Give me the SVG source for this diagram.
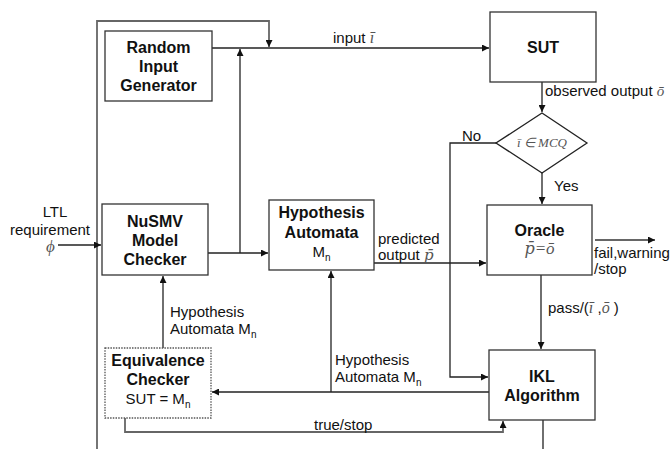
<svg xmlns="http://www.w3.org/2000/svg" width="670" height="449" viewBox="0 0 670 449">
<defs>
<marker id="arr" viewBox="0 0 10 10" refX="10" refY="5" markerWidth="10" markerHeight="7" markerUnits="userSpaceOnUse" orient="auto"><path d="M0,0 L10,5 L0,10 z" fill="#111"/></marker>
</defs>
<style>
.box{fill:#fff;stroke:#333;stroke-width:1.3}
.dot{fill:#fff;stroke:#555;stroke-width:1.3;stroke-dasharray:1.5 1.2}
.t{font-family:"Liberation Sans",Arial,sans-serif;font-weight:bold;font-size:16px;fill:#111;text-anchor:middle}
.r{font-family:"Liberation Sans",Arial,sans-serif;font-size:15px;fill:#111}
.rc{font-family:"Liberation Sans",Arial,sans-serif;font-size:15px;fill:#111;text-anchor:middle}
.m{font-family:"Liberation Serif","Times New Roman",serif;font-style:italic;fill:#555}
.dj{font-family:"DejaVu Serif",serif;font-style:italic;fill:#555}
.sub{font-size:10px}
.c{fill:none;stroke:#222;stroke-width:1.3}
.g{fill:none;stroke:#666;stroke-width:1.8}
</style>
<g id="connectors">
<path class="g" d="M97,449 V21 H269 V47" marker-end="url(#arr)"/>
<path class="c" d="M212,48 H489" marker-end="url(#arr)"/>
<path class="c" d="M208,253 H268" marker-end="url(#arr)"/>
<path class="c" d="M240,253 V49" marker-end="url(#arr)"/>
<path class="c" d="M58,245 H101" marker-end="url(#arr)"/>
<path class="c" d="M542,82 V112" marker-end="url(#arr)"/>
<path class="c" d="M542,173 V204" marker-end="url(#arr)"/>
<path class="c" d="M496,143 H450 V377 H488" marker-end="url(#arr)"/>
<path class="c" d="M374,263 H486" marker-end="url(#arr)"/>
<path class="g" d="M595,240 H655" marker-end="url(#arr)"/>
<path class="c" d="M541,275 V349" marker-end="url(#arr)"/>
<path class="c" d="M489,392 H212" marker-end="url(#arr)"/>
<path class="c" d="M331,392 V271" marker-end="url(#arr)"/>
<path class="c" d="M163,348 V276" marker-end="url(#arr)"/>
<path class="g" d="M125,418 V432 H503 V421" marker-end="url(#arr)"/>
<path class="c" d="M543,420 V449"/>
</g>
<g id="labels">
<text class="r" x="333" y="43">input <tspan class="m" font-size="16">ī</tspan></text>
<text class="r" x="545" y="96">observed output <tspan class="m" font-size="15">ō</tspan></text>
<text class="r" x="462" y="141">No</text>
<text class="r" x="554" y="191">Yes</text>
<text class="r" x="378" y="244">predicted</text>
<text class="r" x="378" y="260">output <tspan class="dj" font-size="15">p̄</tspan></text>
<text class="r" x="594" y="258">fail,warning</text>
<text class="r" x="594" y="274">/stop</text>
<text class="r" x="548" y="313">pass/(<tspan class="m" font-size="16">ī</tspan> ,<tspan class="m" font-size="16">ō</tspan> )</text>
<text class="r" x="335" y="365">Hypothesis</text>
<text class="r" x="335" y="382">Automata M<tspan class="sub" dy="4">n</tspan></text>
<text class="r" x="170" y="317">Hypothesis</text>
<text class="r" x="170" y="334">Automata M<tspan class="sub" dy="4">n</tspan></text>
<text class="r" x="314" y="430">true/stop</text>
<text class="rc" x="55" y="217">LTL</text>
<text class="rc" x="50" y="235">requirement</text>
<text class="m" x="46" y="252" font-size="17" fill="#222">ϕ</text>
</g>
<g id="random">
<rect class="box" x="105" y="31" width="107" height="70"/>
<text class="t" x="158.5" y="53">Random</text>
<text class="t" x="158.5" y="72">Input</text>
<text class="t" x="158.5" y="91">Generator</text>
</g>
<g id="sut">
<rect class="box" x="490" y="12" width="106" height="70"/>
<text class="t" x="543" y="53">SUT</text>
</g>
<g id="nusmv">
<rect class="box" x="102" y="204" width="106" height="71"/>
<text class="t" x="155" y="227">NuSMV</text>
<text class="t" x="155" y="246">Model</text>
<text class="t" x="155" y="265">Checker</text>
</g>
<g id="hypothesis">
<rect class="box" x="269" y="200" width="105" height="70"/>
<text class="t" x="321.5" y="218">Hypothesis</text>
<text class="t" x="321.5" y="238">Automata</text>
<text class="rc" x="321.5" y="257" font-size="16">M<tspan class="sub" dy="4">n</tspan></text>
</g>
<g id="decision">
<polygon points="542,113 587,143 542,173 496,143" fill="#fff" stroke="#222" stroke-width="1.3"/>
<text class="m" x="542" y="147" font-size="13" text-anchor="middle">ī ∈ MCQ</text>
</g>
<g id="oracle">
<rect class="box" x="487" y="205" width="105" height="70"/>
<text class="t" x="539.5" y="236">Oracle</text>
<text x="539.5" y="254" font-size="16" text-anchor="middle"><tspan class="dj">p̄</tspan><tspan class="m" font-size="17">=ō</tspan></text>
</g>
<g id="ikl">
<rect class="box" x="489" y="350" width="106" height="70"/>
<text class="t" x="542" y="382">IKL</text>
<text class="t" x="542" y="401">Algorithm</text>
</g>
<g id="equivalence">
<rect class="dot" x="105" y="348" width="106" height="70"/>
<text class="t" x="158" y="366">Equivalence</text>
<text class="t" x="158" y="385">Checker</text>
<text class="rc" x="158" y="404" font-size="16">SUT = M<tspan class="sub" dy="4">n</tspan></text>
</g>
</svg>
